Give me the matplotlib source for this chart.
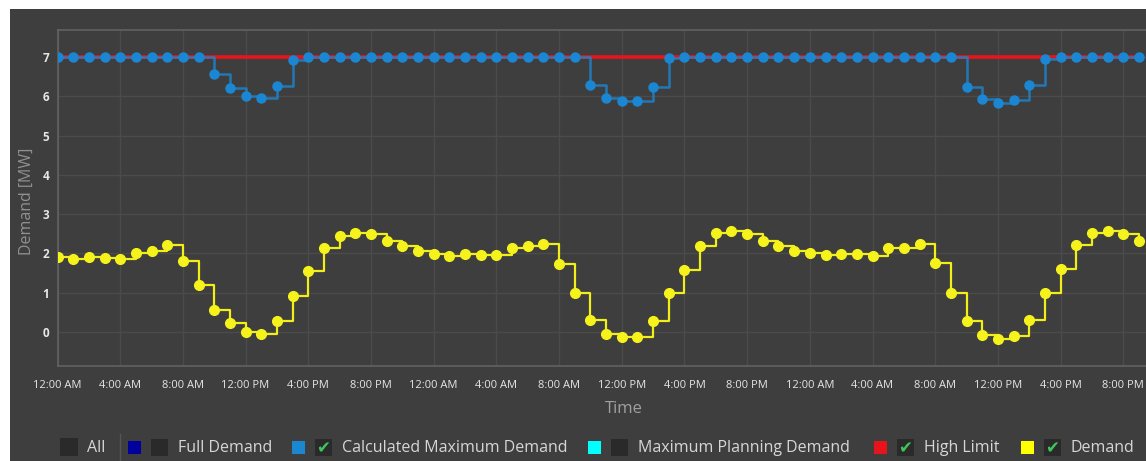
import matplotlib
matplotlib.use("Agg")
import matplotlib.pyplot as plt
from matplotlib.patches import Rectangle

# hourly samples, 3 days shown (0..69 h visible)
hours = list(range(70))

demand = [1.90, 1.87, 1.90, 1.88, 1.85, 2.02, 2.06, 2.22, 1.80, 1.20,
          0.57, 0.22, 0.00, -0.04, 0.27, 0.93, 1.55, 2.15, 2.45, 2.52,
          2.50, 2.31, 2.20, 2.07, 1.99, 1.93, 1.99, 1.96, 1.95, 2.14,
          2.18, 2.25, 1.72, 1.00, 0.30, -0.04, -0.13, -0.13, 0.27, 1.00,
          1.58, 2.19, 2.52, 2.56, 2.50, 2.33, 2.20, 2.06, 2.02, 1.95,
          1.99, 1.98, 1.94, 2.14, 2.15, 2.25, 1.75, 1.00, 0.28, -0.07,
          -0.17, -0.10, 0.30, 1.00, 1.60, 2.21, 2.52, 2.56, 2.50, 2.33]

calc_max = [7, 7, 7, 7, 7, 7, 7, 7, 7, 7,
            6.58, 6.22, 6.02, 5.95, 6.27, 6.92, 7, 7, 7, 7,
            7, 7, 7, 7, 7, 7, 7, 7, 7, 7,
            7, 7, 7, 7, 6.29, 5.96, 5.87, 5.87, 6.25, 6.98,
            7, 7, 7, 7, 7, 7, 7, 7, 7, 7,
            7, 7, 7, 7, 7, 7, 7, 7, 6.25, 5.93,
            5.83, 5.92, 6.29, 6.96, 7, 7, 7, 7, 7, 7]

high_limit = [7] * 70

tick_hours = list(range(0, 72, 4))
tick_labels = ["12:00 AM", "4:00 AM", "8:00 AM", "12:00 PM", "4:00 PM", "8:00 PM"] * 3

legend_labels = ["Full Demand", "Calculated Maximum Demand", "Maximum Planning Demand",
                 "High Limit", "Demand"]
legend_colors = ["#00009c", "#1b87d2", "#00ffff", "#e8141c", "#ffff00"]
legend_checked = [False, True, False, True, True]

W, H = 1146, 461
BG = "#3e3e3e"
FONT = ["Open Sans", "DejaVu Sans"]


def fx(px):
    return px / W


def fy(py):
    return (H - py) / H


fig = plt.figure(figsize=(W / 100, H / 100), dpi=100, facecolor="white")
fig.patches.append(Rectangle((fx(10), 0), 1, fy(9), transform=fig.transFigure,
                             facecolor=BG, edgecolor="none", zorder=-10))

left, right, top, bottom = 57.5, 1186, 30, 366
ax = fig.add_axes([fx(left), fy(bottom), (right - left) / W, (bottom - top) / H])
ax.set_facecolor(BG)

ax.plot(hours, high_limit, drawstyle="steps-post", color="#e8141c", lw=2.6, zorder=2)
ax.plot(hours, calc_max, drawstyle="steps-post", color="#1b87d2", lw=1.8, alpha=0.8, zorder=3)
ax.plot(hours, calc_max, ls="none", marker="o", ms=6.5, color="#1b87d2", zorder=4)
ax.plot(hours, demand, drawstyle="steps-post", color="#f2ee1a", lw=1.6, zorder=3)
ax.plot(hours, demand, ls="none", marker="o", ms=7, color="#f6f21c", zorder=4)

ax.set_xlim(0, 72)
ax.set_ylim(-0.865, 7.69)
ax.set_xticks(tick_hours)
ax.set_xticklabels(tick_labels)
ax.set_yticks(range(0, 8))
ax.grid(True, color="#4b4b4b", lw=1)
ax.set_axisbelow(True)
ax.tick_params(length=0, colors="#e6e6e6")
ax.tick_params(axis="x", pad=10, labelsize=8)
ax.tick_params(axis="y", pad=6, labelsize=8.5)
for t in ax.get_xticklabels():
    t.set_family(FONT)
for t in ax.get_yticklabels():
    t.set_family(FONT)
    t.set_fontweight("bold")
for s in ["top", "left", "bottom"]:
    ax.spines[s].set_color("#626262")
    ax.spines[s].set_linewidth(1.2)
ax.spines["right"].set_visible(False)

ax.set_xlabel("Time", color="#a0a0a0", fontsize=12, family=FONT)
ax.xaxis.set_label_coords((624 - left) / (right - left), (bottom - 401) / (bottom - top))
ax.set_ylabel("Demand [MW]", color="#909090", fontsize=11.5, family=FONT)
ax.yaxis.set_label_coords((35 - left) / (right - left), 0.49)

# legend strip (checkbox style)
LEG_Y = 447
TXT = "#d6d6d6"


def box(x0, size, color):
    fig.patches.append(Rectangle((fx(x0), fy(LEG_Y + size / 2)), size / W, size / H,
                                 transform=fig.transFigure, facecolor=color,
                                 edgecolor="none"))


def check(x0):
    fig.text(fx(x0 + 8.5), fy(LEG_Y + 1), "\u2714", color="#3fc55c", fontsize=12,
             ha="center", va="center", family="DejaVu Sans")


box(60, 18, "#2a2a2a")
fig.text(fx(87), fy(LEG_Y + 1), "All", color=TXT, fontsize=11.5, va="center", family=FONT)
fig.lines.append(plt.Line2D([fx(120), fx(120)], [fy(434), fy(461)], transform=fig.transFigure,
                            color="#555555", lw=1))

sq_x = [128, 292, 588, 874, 1021]
for x0, lab, col, chk in zip(sq_x, legend_labels, legend_colors, legend_checked):
    box(x0, 13, col)
    box(x0 + 23, 17, "#2a2a2a")
    if chk:
        check(x0 + 23)
    fig.text(fx(x0 + 50), fy(LEG_Y + 1), lab, color=TXT, fontsize=11.5, va="center", family=FONT)

fig.savefig("out.png", dpi=100, facecolor=fig.get_facecolor())
